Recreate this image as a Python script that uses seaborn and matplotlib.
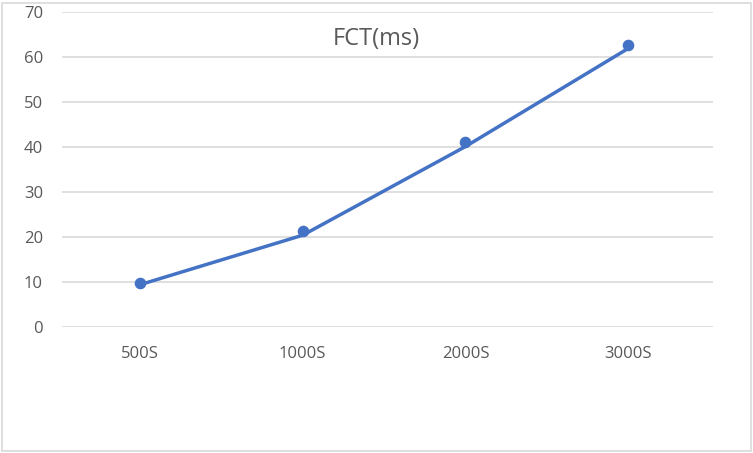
import matplotlib
matplotlib.use("Agg")
import matplotlib.pyplot as plt
import seaborn as sns
import pandas as pd
from matplotlib.patches import Rectangle

categories = ["500S", "1000S", "2000S", "3000S"]
marker_values = [9.8, 21.4, 41.2, 62.6]
line_values = [9.4, 20.4, 40.1, 61.9]

df = pd.DataFrame({
    "pos": range(len(categories)),
    "Scenario": categories,
    "points": marker_values,
    "line": line_values,
})

sns.set_style("white")
plt.rcParams["font.family"] = ["Open Sans", "DejaVu Sans"]

blue = "#4472C4"
grey_txt = "#595959"

fig = plt.figure(figsize=(7.53, 4.53), dpi=100)
ax = fig.add_axes([62 / 753, 1 - 327 / 453, (713 - 62) / 753, (327 - 12) / 453])

sns.lineplot(data=df, x="pos", y="line", ax=ax, color=blue, linewidth=2.5, zorder=3)
sns.scatterplot(data=df, x="pos", y="points", ax=ax, color=blue, s=70,
                edgecolor=blue, linewidth=0, zorder=4)

ax.set_xlim(-0.479, 3.521)
ax.set_ylim(0, 70)
ax.set_yticks(range(0, 71, 10))
ax.set_xticks(df["pos"])
ax.set_xticklabels(categories)
for y in range(0, 71, 10):
    ax.axhline(y, color="#d9d9d9", linewidth=1.2, zorder=1)
for s in ax.spines.values():
    s.set_visible(False)
ax.tick_params(axis="both", length=0, labelsize=12, labelcolor=grey_txt)
ax.tick_params(axis="y", pad=13.7)
ax.tick_params(axis="x", pad=13.5)
ax.set_xlabel("")
ax.set_ylabel("")

fig.text(376 / 753, 1 - 39 / 453, "FCT(ms)", ha="center", va="center",
         fontsize=17, color=grey_txt)

fig.patches.append(Rectangle((2 / 753, 2 / 453), 749 / 753, 448 / 453,
                             transform=fig.transFigure, fill=False,
                             edgecolor="#d9d9d9", linewidth=1.2))

fig.savefig("out.png", dpi=100, facecolor="white")
